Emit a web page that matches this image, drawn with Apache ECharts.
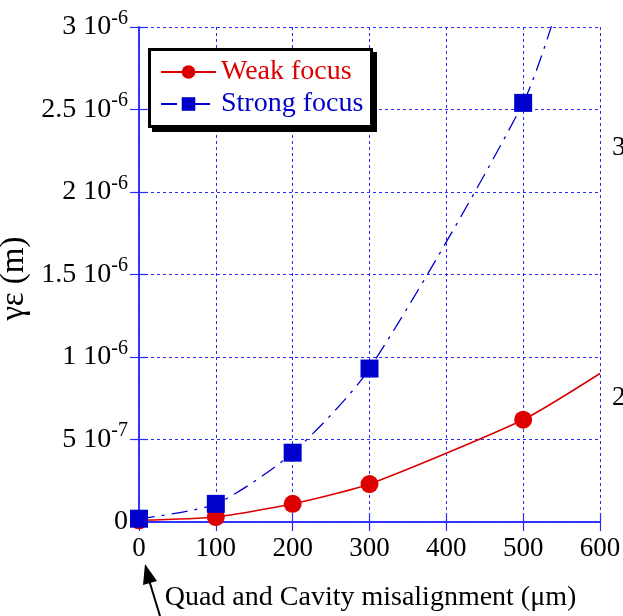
<!DOCTYPE html>
<html>
<head>
<meta charset="utf-8">
<script src="https://cdn.jsdelivr.net/npm/echarts@6/dist/echarts.min.js"></script>
<style>
  html, body { margin: 0; padding: 0; background: #fff; }
  #chart { width: 623px; height: 616px; }
</style>
</head>
<body>
<div id="chart"></div>
<script>
// Misalignment values (µm) where emittance was computed
const misalignment = [0, 100, 200, 300, 500];
// Normalized emittance γε (m) for each lattice
const weakFocus = [0.01e-6, 0.03e-6, 0.11e-6, 0.23e-6, 0.62e-6];
const strongFocus = [0.02e-6, 0.11e-6, 0.42e-6, 0.93e-6, 2.54e-6];
// Where each trend curve runs off past the last computed point
const weakCurveEnd = [600, 0.90e-6];
const strongCurveEnd = [550, 3.2e-6];
// Axis tick labels
const xTicks = [0, 100, 200, 300, 400, 500, 600];
const yTickLabels = ['0', '5 10{s|-7}', '1 10{s|-6}', '1.5 10{s|-6}', '2 10{s|-6}', '2.5 10{s|-6}', '3 10{s|-6}'];

const SERIF = '"Liberation Serif", "Times New Roman", serif';
const RED = '#dd0000';
const BLUE = '#0000cc';
const GRID_BLUE = '#2a2aff';

function buildData(xs, ys, end) {
  const pts = xs.map((x, i) => [x, ys[i]]);
  pts.push({ value: end, symbol: 'none' });
  return pts;
}

const chart = echarts.init(document.getElementById('chart'), null, { renderer: 'canvas' });

const axisCommon = {
  type: 'value',
  axisLine: { show: true, lineStyle: { color: GRID_BLUE, width: 1.5 } },
  axisTick: { show: true, inside: true, length: 9, lineStyle: { color: GRID_BLUE, width: 1.2 } },
  splitLine: { show: false }
};

chart.setOption({
  animation: false,
  backgroundColor: '#ffffff',
  grid: { left: 139, right: 23, top: 27, bottom: 94, containLabel: false, outerBoundsMode: 'none' },
  xAxis: [
    Object.assign({}, axisCommon, {
      min: 0, max: 600, interval: 100,
      position: 'bottom',
      splitLine: { show: true, lineStyle: { color: GRID_BLUE, width: 1, type: [3, 3] } },
      axisLabel: {
        color: '#000', fontFamily: SERIF, fontSize: 27, margin: 13,
        formatter: v => (xTicks.indexOf(v) >= 0 ? String(v) : '')
      },
      name: 'Quad and Cavity misalignment (\u03bcm)',
      nameLocation: 'middle',
      nameGap: 62,
      nameTextStyle: { color: '#000', fontFamily: SERIF, fontSize: 28, padding: [0, 0, 0, 2] }
    }),
    Object.assign({}, axisCommon, {
      min: 0, max: 600, interval: 100,
      position: 'top',
      axisLabel: { show: false }
    })
  ],
  yAxis: [
    Object.assign({}, axisCommon, {
      min: 0, max: 3e-6, interval: 5e-7,
      position: 'left',
      splitLine: { show: true, lineStyle: { color: GRID_BLUE, width: 1, type: [3, 3] } },
      axisLabel: {
        color: '#000', fontFamily: SERIF, fontSize: 28, margin: 11,
        formatter: v => yTickLabels[Math.round(v / 5e-7)] || '',
        rich: {
          s: { fontFamily: SERIF, fontSize: 20, verticalAlign: 'top', padding: [0, 0, 17, 0], color: '#000' }
        }
      },
      name: '\u03b3\u03b5 (m)',
      nameLocation: 'middle',
      nameGap: 98,
      nameRotate: 90,
      nameTextStyle: { color: '#000', fontFamily: SERIF, fontSize: 33, padding: [0, 8, 0, 0] }
    }),
    Object.assign({}, axisCommon, {
      min: 0, max: 3e-6, interval: 5e-7,
      position: 'right',
      axisLabel: { show: false }
    })
  ],
  legend: {
    orient: 'vertical',
    left: 160, top: 58,
    padding: 0,
    itemGap: 4,
    itemWidth: 55,
    itemHeight: 17,
    backgroundColor: 'transparent',
    textStyle: { fontFamily: SERIF, fontSize: 28 },
    data: [
      { name: 'Weak focus', textStyle: { color: RED } },
      { name: 'Strong focus', textStyle: { color: BLUE } }
    ]
  },
  series: [
    {
      name: 'Weak focus',
      type: 'line',
      data: buildData(misalignment, weakFocus, weakCurveEnd),
      smooth: 0.2,
      clip: true,
      symbol: 'circle',
      symbolSize: 18,
      itemStyle: { color: RED },
      lineStyle: { color: RED, width: 1.5 },
      z: 3
    },
    {
      name: 'Strong focus',
      type: 'line',
      data: buildData(misalignment, strongFocus, strongCurveEnd),
      smooth: 0.25,
      clip: true,
      symbol: 'rect',
      symbolSize: 18,
      itemStyle: { color: BLUE },
      lineStyle: { color: BLUE, width: 1.3, type: [16, 7, 3, 7] },
      z: 4
    }
  ],
  graphic: [
    // legend frame: hard drop shadow, then the bordered box
    {
      type: 'rect', z: 1,
      shape: { x: 152, y: 52, width: 225, height: 80 },
      style: { fill: '#000' }
    },
    {
      type: 'rect', z: 2,
      shape: { x: 149.5, y: 49.5, width: 222, height: 77 },
      style: { fill: '#fff', stroke: '#000', lineWidth: 3 }
    },
    // pointer arrow towards the zero misalignment label
    {
      type: 'line',
      shape: { x1: 160, y1: 616, x2: 149, y2: 580 },
      style: { stroke: '#000', lineWidth: 2 }
    },
    {
      type: 'polygon',
      shape: { points: [[145, 564], [157, 581], [143, 585]] },
      style: { fill: '#000' }
    },
    // axis labels of the neighbouring panel
    {
      type: 'text', left: 612, top: 134,
      style: { text: '3', font: '27px ' + SERIF, fill: '#000' }
    },
    {
      type: 'text', left: 612, top: 384,
      style: { text: '2', font: '27px ' + SERIF, fill: '#000' }
    }
  ]
});
</script>
</body>
</html>
